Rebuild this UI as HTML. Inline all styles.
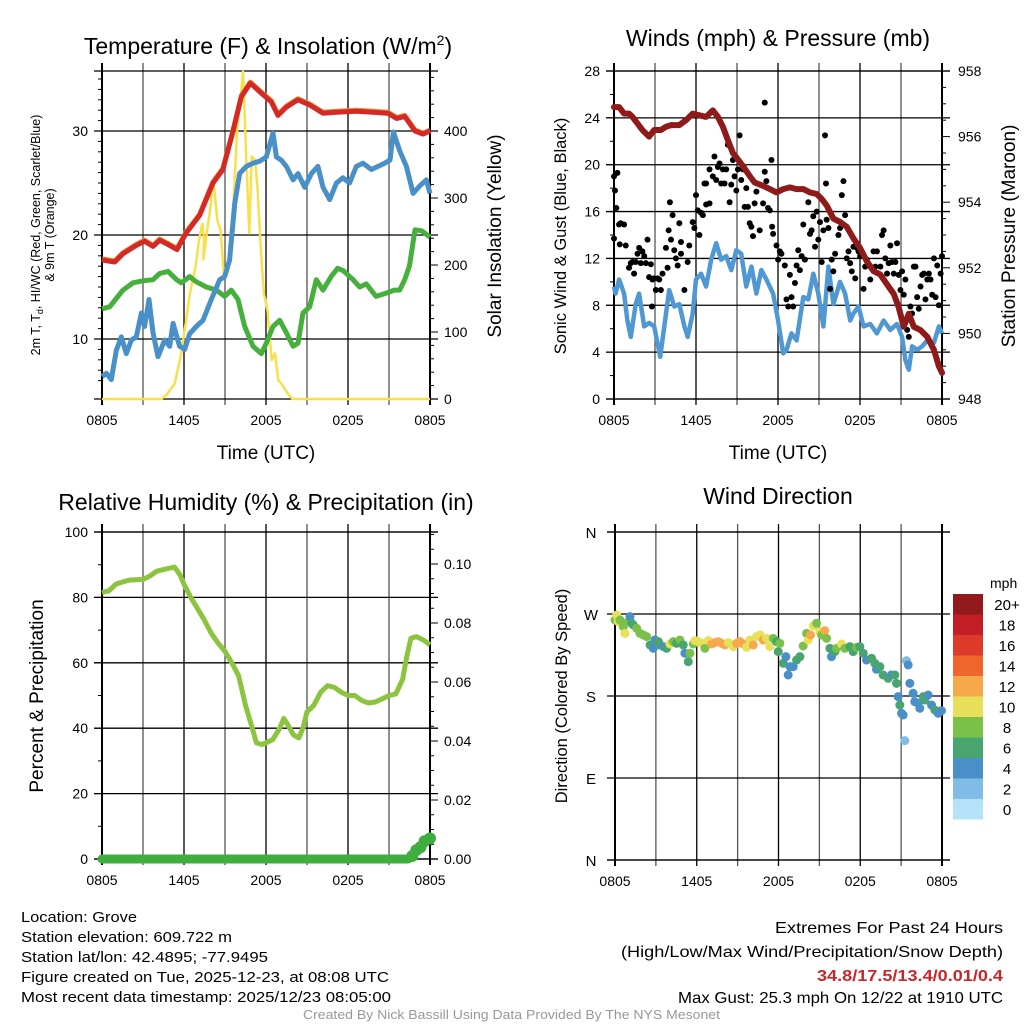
<!DOCTYPE html>
<html><head><meta charset="utf-8"><style>
html,body{margin:0;padding:0;background:#fff;}
svg{display:block;font-family:"Liberation Sans",sans-serif;}
</style></head><body>
<svg id="c" width="1024" height="1024" viewBox="0 0 1024 1024" xmlns="http://www.w3.org/2000/svg"></svg>
<script>
// ---------- Panel 1 data ----------
const tempTimes=[0,0.93,1.54,2.51,3.12,3.73,4.22,4.95,5.49,6.17,7.15,8.12,8.85,9.59,10.2,10.85,11.78,12.39,12.88,13.49,14.34,15.2,16.17,17.15,18.61,19.83,20.93,21.56,22.15,22.9,23.49,24];
const tempValues=[17.6,17.4,18.2,19.0,19.4,18.9,19.5,19.0,18.6,20.2,21.9,25.0,26.3,30.0,33.3,34.6,33.5,32.8,31.5,32.3,33.0,32.5,31.7,31.8,31.9,31.8,31.7,31.2,31.4,30.0,29.7,30.0];
const dewTimes=[0,0.32,0.68,1.05,1.41,1.78,2.15,2.51,2.88,3.12,3.44,3.73,4.1,4.59,4.95,5.2,5.68,6.05,6.41,6.9,7.39,8.0,8.61,8.98,9.34,9.71,10.07,10.56,11.05,11.54,12.02,12.51,12.51,12.76,13.12,13.49,13.98,14.34,14.83,15.32,15.8,16.17,16.66,17.15,17.63,18.12,18.61,19.1,19.71,20.2,20.68,21.07,21.32,21.78,22.27,22.76,23.24,23.73,24];
const dewValues=[6.4,6.7,6.1,8.9,10.2,8.6,9.9,10.2,12.5,11.2,13.8,10.6,8.3,9.9,9.3,11.5,9.3,9.0,10.5,11.2,11.8,13.8,15.7,16.0,17.6,23.0,25.9,26.6,26.9,27.1,27.5,29.8,29.8,27.5,27.2,26.6,25.3,25.9,24.6,25.9,26.6,24.6,23.4,25.0,25.5,25.0,26.6,26.9,26.3,26.6,26.9,27.2,29.9,28.1,26.6,24.0,24.7,25.3,24.0];
const chillTimes=[0,0.56,1.05,1.54,2.27,3.0,3.73,4.22,4.83,5.46,5.8,6.41,6.9,7.63,8.37,8.98,9.46,9.95,10.44,11.05,11.66,12.02,12.51,13.0,13.49,13.98,14.34,14.71,15.2,15.68,16.17,16.76,17.24,17.63,18.37,18.85,19.34,20.05,20.78,21.39,21.78,22.15,22.49,22.9,23.39,24];
const chillValues=[12.9,13.1,13.9,14.7,15.4,15.6,15.7,16.3,16.5,15.7,15.4,16.0,15.5,15.0,14.7,14.1,14.7,13.8,11.2,9.3,8.6,9.6,11.2,11.8,10.6,9.3,9.6,12.5,13.1,15.7,14.7,16.0,16.8,16.6,15.7,15.0,15.3,14.1,14.4,14.7,14.7,15.7,17.0,20.5,20.4,19.8];
const solarTimes=[0,4.34,4.71,5.32,5.8,6.44,6.85,7.1,7.34,7.46,7.41,7.71,7.95,8.07,8.2,8.44,8.68,8.93,9.17,9.41,9.66,9.9,10.12,10.32,10.56,10.78,10.95,11.2,11.37,11.61,11.85,12.1,12.42,12.66,12.9,13.2,13.56,13.93,24];
const solarValues=[0,0,6,23,68,158,198,237,262,240,208,254,287,322,317,267,252,183,188,227,307,406,441,489,357,247,362,357,317,227,158,133,58,68,28,21,9,0,0];
// ---------- Panel 2 data ----------
const presTimes=[0,0.37,0.74,1.1,1.35,1.72,2.08,2.57,2.94,3.43,3.8,4.17,4.78,5.27,5.76,6.25,6.74,7.23,7.6,7.97,8.33,8.7,9.07,9.44,9.93,10.29,10.91,11.4,11.89,12.38,12.87,13.36,13.85,14.34,14.83,15.2,15.56,16.05,16.54,17.03,17.52,18.01,18.5,18.99,19.48,19.97,20.47,20.83,21.2,21.57,21.94,22.43,22.92,23.41,23.77,24];
const presValues=[956.9,956.9,956.7,956.7,956.6,956.4,956.2,956.0,956.2,956.2,956.3,956.35,956.35,956.5,956.7,956.65,956.6,956.8,956.6,956.3,955.9,955.5,955.3,955.1,954.8,954.6,954.5,954.4,954.3,954.4,954.45,954.4,954.4,954.3,954.25,954.1,953.9,953.5,953.4,953.25,952.9,952.6,952.2,951.9,951.8,951.5,951.2,950.8,950.2,950.6,950.2,950.1,949.9,949.5,949.0,948.8];
const windTimes=[0,0.12,0.37,0.74,0.98,1.23,1.59,1.84,2.21,2.57,2.94,3.26,3.38,3.68,4.04,4.41,4.78,5.15,5.39,5.76,6.0,6.37,6.74,7.11,7.48,7.84,8.21,8.58,8.95,9.31,9.68,10.05,10.42,10.78,11.15,11.64,12.01,12.38,12.62,12.99,13.36,13.85,14.22,14.58,14.95,15.32,15.69,16.05,16.54,16.91,17.28,17.52,17.89,18.26,18.75,19.24,19.73,20.22,20.71,21.08,21.32,21.57,21.81,22.18,22.55,22.92,23.41,23.77,24];
const windValues=[9.6,9.0,10.2,9.0,6.7,5.3,8.1,9.0,6.2,6.5,6.2,4.3,3.6,6.2,9.3,7.9,8.1,6.2,5.3,7.3,10.2,10.7,9.6,11.9,13.3,11.9,12.2,11.0,12.7,12.4,9.6,11.3,9.0,11.0,10.2,9.0,6.7,3.9,4.2,5.6,5.0,8.7,8.5,10.7,9.0,6.2,11.3,8.1,10.0,9.0,6.7,7.3,7.9,6.2,6.4,5.6,6.7,5.9,6.4,5.3,3.3,2.5,4.5,4.2,4.5,5.0,4.8,6.2,5.6];
const gustTimes=[0,0,0.25,0.07,0.17,0.37,0.49,0.74,0.42,0.86,1.1,1.23,1.35,1.47,1.59,1.72,1.84,2.08,1.96,2.21,2.33,2.45,2.57,2.7,2.82,2.94,2.77,3.06,3.19,3.43,3.31,3.55,3.8,3.92,4.0,4.09,4.17,4.29,4.41,4.53,4.66,4.78,4.9,4.9,5.15,5.39,5.51,5.76,5.88,6.0,6.13,6.25,6.37,6.5,6.74,6.99,6.62,6.74,6.99,7.23,7.35,7.48,7.6,7.72,7.84,7.97,8.09,8.21,8.33,8.46,8.58,8.7,8.82,8.95,9.07,9.19,9.31,9.44,9.56,9.68,9.8,9.93,10.05,10.17,10.29,10.42,10.66,10.91,11.03,11.15,11.27,11.4,11.52,11.57,11.64,11.03,11.89,12.01,12.13,12.25,12.5,12.62,12.75,12.87,12.99,13.11,13.24,13.36,13.48,13.6,13.73,13.85,13.97,14.22,14.34,14.46,14.58,14.71,14.83,14.95,15.07,15.2,15.32,15.44,15.51,15.56,15.69,15.81,15.93,16.05,16.18,16.42,16.54,16.67,16.79,16.91,17.03,17.16,17.28,17.4,17.52,17.65,17.77,17.89,18.01,18.26,18.38,18.5,18.75,18.99,19.12,19.24,19.49,19.61,19.73,19.85,19.98,20.1,20.22,20.34,20.47,20.59,20.71,20.83,20.96,21.08,21.2,21.32,21.45,21.57,21.69,21.81,21.94,22.06,22.18,22.3,22.43,22.55,22.67,22.79,22.92,23.04,23.16,23.28,23.41,23.53,23.65,23.77,23.9,24.0];
const gustValues=[13.7,19.0,19.3,17.8,16.3,14.9,15.0,14.9,13.2,13.1,11.2,11.6,11.7,10.7,11.7,12.4,12.9,12.6,11.6,12.2,11.6,13.6,10.4,11.5,10.2,10.3,7.9,9.3,10.3,9.3,10.2,10.7,12.9,11.2,14.4,16.8,13.6,15.7,12.7,12.0,11.4,15.0,13.4,12.4,9.3,11.7,13.1,15.1,14.6,17.4,16.1,14.0,15.9,15.7,16.6,16.7,18.4,18.4,19.6,19.0,20.7,18.7,19.8,20.1,18.4,19.6,18.4,19.6,21.7,16.8,18.3,20.4,19.0,17.8,19.6,22.5,18.7,19.6,16.4,18.0,16.4,15.0,14.7,13.9,16.7,17.7,14.4,16.7,19.4,18.6,16.3,16.1,20.4,14.7,14.1,25.3,13.1,11.9,12.6,12.4,11.4,8.5,7.9,10.6,8.7,7.9,9.9,11.4,12.7,11.0,12.2,14.9,11.9,16.8,14.1,14.4,15.6,13.0,16.0,13.6,15.1,11.7,14.4,22.5,18.4,15.3,14.6,9.4,11.9,10.9,12.4,14.0,14.6,17.4,18.6,15.7,12.0,12.6,11.6,10.9,13.0,10.3,12.9,12.6,12.2,9.4,11.3,11.9,10.2,12.6,11.3,12.6,11.3,14.0,14.4,12.0,10.7,11.6,13.1,11.7,10.7,11.7,13.3,10.6,9.3,10.9,8.9,10.2,5.9,5.3,7.9,7.3,11.3,11.3,8.7,7.7,9.6,10.6,10.7,8.5,10.2,10.7,10.2,8.9,12.0,8.7,11.4,8.0,10.7,12.2];
// ---------- Panel 3 data ----------
const rhTimes=[0,0.5,1,1.5,2,3,3.5,4,4.5,5,5.3,5.7,6,6.5,7,7.5,8,8.5,9,9.5,10,10.5,11,11.3,11.7,12,12.5,13,13.3,13.6,14,14.4,14.7,15,15.5,16,16.5,17,17.5,18,18.5,19,19.5,20,20.5,21,21.5,22,22.3,22.6,23,23.5,24];
const rhValues=[81.5,82,84,84.7,85.3,85.5,86.5,88,88.5,89,89.3,87,84,80,76.5,73,69,66,63.5,60,56,47,40,35.5,35,35.5,36.5,40,43,41,38,37,40,45,47,51,53,52.5,51,50,50,48.5,47.7,48,49,50,50.5,55,62,67.5,68,67,65.5];
const precipTimes=[0,22.4,22.7,23.0,23.3,23.6,24];
const precipValues=[0,0,0.001,0.003,0.004,0.006,0.007];
// ---------- Panel 4 data ----------
const dirTimes=[0,0.12,0.24,0.37,0.61,0.73,0.98,1.1,1.22,1.34,1.59,1.83,2.08,2.32,2.57,2.81,2.93,3.18,3.3,3.55,3.79,4.03,4.28,4.52,4.77,5.01,5.13,5.38,5.5,5.75,5.87,6.11,6.36,6.6,6.85,7.09,7.33,7.58,7.82,8.07,8.31,8.68,8.92,9.17,9.41,9.66,9.9,10.15,10.39,10.64,10.88,11.12,11.37,11.61,11.86,11.98,12.1,12.35,12.54,12.71,12.84,13.08,13.33,13.57,13.81,14.06,14.18,14.35,14.55,14.79,15.04,15.16,15.4,15.53,15.77,15.89,16.14,16.26,16.63,16.87,17.24,17.48,17.73,17.97,18.22,18.46,18.83,19.07,19.19,19.44,19.68,20.05,20.29,20.54,20.66,20.78,20.9,21.03,21.15,21.27,21.39,21.52,21.64,21.88,22.0,22.25,22.37,22.62,22.74,22.98,23.23,23.47,23.72,23.96];
const dirValues=[263.4,268.9,261.6,263.4,256.1,248.8,261.6,267.1,259.8,258.0,254.3,248.8,247.0,245.2,236.0,232.3,241.5,239.7,236.0,234.2,232.3,237.1,239.7,237.8,241.5,236.0,226.9,217.7,226.9,237.1,240.8,239.7,237.8,232.3,240.8,237.1,238.6,239.7,237.8,236.0,238.6,234.2,237.8,239.7,237.1,233.4,241.5,236.0,245.2,247.0,241.5,243.3,234.2,243.3,239.7,228.7,237.8,215.9,223.2,203.1,212.2,212.2,219.5,223.2,234.9,248.8,241.5,247.0,256.9,259.8,250.6,247.0,251.7,243.3,232.3,223.2,228.7,232.3,237.1,232.3,234.2,228.7,233.4,234.2,226.9,219.5,221.4,215.9,209.3,212.2,203.1,199.4,203.1,203.1,193.9,179.3,170.1,161.0,159.2,131.0,218.8,214.1,193.9,183.0,173.8,172.0,166.5,179.3,175.6,181.1,170.1,164.7,161.0,163.9];
const dirSpeeds=[8,10,10,8,8,10,8,4,6,6,8,8,8,8,6,4,4,6,6,4,6,10,8,6,8,6,4,6,8,8,10,10,10,8,10,12,12,12,12,12,10,10,12,12,12,10,10,12,10,10,12,10,10,8,6,6,8,6,4,4,4,4,6,6,8,8,10,12,10,8,10,8,12,8,6,4,6,8,10,8,6,6,8,6,6,4,6,6,4,6,6,6,4,6,6,4,6,4,4,2,2,4,4,4,4,4,4,6,6,4,4,6,4,4];
const legendLabels=["20+","18","16","14","12","10","8","6","4","2","0"];
const legendColors=["#921a1c","#c11f26","#dd3a2c","#f0652c","#f7a84a","#e8e05a","#7ac14a","#48a56f","#4a8fc7","#80bce6","#b5e2f7"];
const timeTicks=[0,6,12,18,24];
const timeTickLabels=["0805","1405","2005","0205","0805"];

const NS="http://www.w3.org/2000/svg";
const svg=document.getElementById('c');
function el(tag,attrs,parent){const e=document.createElementNS(NS,tag);for(const k in attrs)e.setAttribute(k,attrs[k]);(parent||svg).appendChild(e);return e;}
function txt(s,x,y,size,anchor,parent,extra){const t=el('text',Object.assign({x:x,y:y,'font-size':size,'text-anchor':anchor||'middle',fill:'#000'},extra||{}),parent);t.textContent=s;return t;}
function lin(d0,d1,p0,p1){return v=>p0+(v-d0)/(d1-d0)*(p1-p0);}
function path(xs,ys,fx,fy){let d='';for(let i=0;i<xs.length;i++){d+=(i?'L':'M')+fx(xs[i]).toFixed(1)+' '+fy(ys[i]).toFixed(1);}return d;}

function frame(g,x0,x1,y0,y1,hLines,fy){
  for(let h=0;h<=24;h+=3){const x=lin(0,24,x0,x1)(h);
    const l=el('line',{x1:x,y1:y0-8,x2:x,y2:y1+6,stroke:(h%6==0)?'#000':'#555','stroke-width':1.3},g);
    
    }
  hLines.forEach(v=>{const y=fy(v);
    const l=el('line',{x1:x0-8,y1:y,x2:x1+8,y2:y,stroke:'#000','stroke-width':1.3},g);
    
    });
  el('line',{x1:x0,y1:y0-8,x2:x0,y2:y1+6,stroke:'#000','stroke-width':2},g);
  el('line',{x1:x1,y1:y0-8,x2:x1,y2:y1+6,stroke:'#000','stroke-width':2},g);
  el('line',{x1:x0-8,y1:y1,x2:x1+8,y2:y1,stroke:'#000','stroke-width':1.3},g);
  el('line',{x1:x0-8,y1:y0,x2:x1+8,y2:y0,stroke:'#000','stroke-width':1.3},g);
  const fx=lin(0,24,x0,x1);
  timeTicks.forEach((t,i)=>{const tt=txt(timeTickLabels[i],fx(t),y1+26,14,'middle',g);
    
    });
}

// ===== Panel 1 =====
(function(){
  const g=el('g',{});
  
  
  const x0=102,x1=430,y0=71,y1=399;
  const fx=lin(0,24,x0,x1), fy=lin(10,30,339,131), fs=lin(0,400,399,131);
  frame(g,x0,x1,y0,y1,[10,20,30],fy);
  [10,20,30].forEach(v=>{const t=txt(String(v),x0-14,fy(v)+5,14,'end',g);});
  [0,100,200,300,400].forEach(v=>{const t=txt(String(v),x1+14,fs(v)+5,14,'start',g);});
  for(let v=0;v<=480;v+=20){el('line',{x1:x1,y1:fs(v),x2:x1+(v%100==0?8:4),y2:fs(v),stroke:'#000','stroke-width':1},g);}
  for(let v=6;v<=35;v++){el('line',{x1:x0-(v%10==0?8:4),y1:fy(v),x2:x0,y2:fy(v),stroke:'#000','stroke-width':1},g);}
  const sp=el('path',{d:path(solarTimes,solarValues,fx,fs),fill:'none',stroke:'#f9e04b','stroke-width':2.5,'stroke-linejoin':'round'},g);
  
  const ch=el('path',{d:path(chillTimes,chillValues,fx,fy),fill:'none',stroke:'#46b03c','stroke-width':5,'stroke-linejoin':'round'},g);
  
  const dw=el('path',{d:path(dewTimes,dewValues,fx,fy),fill:'none',stroke:'#4a90c8','stroke-width':5,'stroke-linejoin':'round'},g);
  
  const or=el('path',{d:path(tempTimes,tempValues.map(v=>v+0.1),fx,fy),fill:'none',stroke:'#f08a30','stroke-width':5,'stroke-linejoin':'round'},g);
  
  const tp=el('path',{d:path(tempTimes,tempValues,fx,fy),fill:'none',stroke:'#d42a27','stroke-width':5,'stroke-linejoin':'round'},g);
  
  const ti=el('text',{x:268,y:54,'font-size':23,'text-anchor':'middle'},g);
  ti.innerHTML='Temperature (F) &amp; Insolation (W/m<tspan dy="-9" font-size="14">2</tspan><tspan dy="9">)</tspan>';
  
  const xl=txt('Time (UTC)',266,459,19,'middle',g);
  const yl=el('text',{transform:'translate(40,235) rotate(-90)','font-size':12.5,'text-anchor':'middle'},g);
  yl.innerHTML='2m T, T<tspan dy="3" font-size="9">d</tspan><tspan dy="-3">, HI/WC (Red, Green, Scarlet/Blue)</tspan>';
  
  const yl2=el('text',{transform:'translate(54,235) rotate(-90)','font-size':12.5,'text-anchor':'middle'},g);yl2.textContent='& 9m T (Orange)';
  
  const yr=el('text',{transform:'translate(501,236) rotate(-90)','font-size':19,'text-anchor':'middle'},g);yr.textContent='Solar Insolation (Yellow)';
  
})();

// ===== Panel 2 =====
(function(){
  const g=el('g',{});
  
  const x0=614,x1=942,y0=71,y1=399;
  const fx=lin(0,24,x0,x1), fy=lin(0,28,399,71), fp=lin(948,958,399,71);
  const hl=[];for(let v=0;v<=28;v+=4)hl.push(v);
  frame(g,x0,x1,y0,y1,hl,fy);
  hl.forEach(v=>{const t=txt(String(v),x0-14,fy(v)+5,14,'end',g);});
  for(let v=948;v<=958;v+=2){const t=txt(String(v),x1+16,fp(v)+5,14,'start',g);}
  for(let v=948;v<=958;v+=0.5){el('line',{x1:x1,y1:fp(v),x2:x1+(v%2==0?8:4),y2:fp(v),stroke:'#000','stroke-width':1},g);}
  for(let v=0;v<=28;v+=2){el('line',{x1:x0-(v%4==0?8:4),y1:fy(v),x2:x0,y2:fy(v),stroke:'#000','stroke-width':1},g);}
  const wl=el('path',{d:path(windTimes,windValues,fx,fy),fill:'none',stroke:'#4f98d3','stroke-width':4.5,'stroke-linejoin':'round'},g);
  
  gustTimes.forEach((t,i)=>{const c=el('circle',{cx:fx(t),cy:fy(gustValues[i]),r:3,fill:'#000'},g);
    
    });
  const pl=el('path',{d:path(presTimes,presValues,fx,fp),fill:'none',stroke:'#8e1a1a','stroke-width':6,'stroke-linejoin':'round','stroke-linecap':'round'},g);
  
  const ti=txt('Winds (mph) & Pressure (mb)',778,46,23,'middle',g);
  const xl=txt('Time (UTC)',778,459,19,'middle',g);
  const yl=el('text',{transform:'translate(566,236) rotate(-90)','font-size':16.5,'text-anchor':'middle'},g);yl.textContent='Sonic Wind & Gust (Blue, Black)';
  
  const yr=el('text',{transform:'translate(1015,236) rotate(-90)','font-size':19,'text-anchor':'middle'},g);yr.textContent='Station Pressure (Maroon)';
  
})();

// ===== Panel 3 =====
(function(){
  const g=el('g',{});
  
  const x0=102,x1=430,y0=532,y1=859;
  const fx=lin(0,24,x0,x1), fy=lin(0,100,859,532), fq=lin(0,0.1,859,564);
  const hl=[0,20,40,60,80,100];
  frame(g,x0,x1,y0,y1,hl,fy);
  hl.forEach(v=>{const t=txt(String(v),x0-14,fy(v)+5,14,'end',g);});
  ['0.00','0.02','0.04','0.06','0.08','0.10'].forEach((s,i)=>{const t=txt(s,x1+14,fq(i*0.02)+5,14,'start',g);});
  for(let i=0;i<=22;i++){const v=i*0.005;el('line',{x1:x1,y1:fq(v),x2:x1+(i%4==0?8:4),y2:fq(v),stroke:'#000','stroke-width':1},g);}
  for(let v=0;v<=100;v+=10){el('line',{x1:x0-(v%20==0?8:4),y1:fy(v),x2:x0,y2:fy(v),stroke:'#000','stroke-width':1},g);}
  const rl=el('path',{d:path(rhTimes,rhValues,fx,fy),fill:'none',stroke:'#8cc43f','stroke-width':5,'stroke-linejoin':'round'},g);
  
  const pr=el('path',{d:path(precipTimes,precipValues,fx,fq),fill:'none',stroke:'#3fae3f','stroke-width':9,'stroke-linecap':'round','stroke-linejoin':'round'},g);
  
  precipTimes.forEach((t,i)=>{if(i>=2){const c=el('circle',{cx:fx(t),cy:fq(precipValues[i]),r:6,fill:'#3fae3f'},g);
    
    }});
  const ti=txt('Relative Humidity (%) & Precipitation (in)',266,510,23,'middle',g);
  const yl=el('text',{transform:'translate(43,696) rotate(-90)','font-size':19,'text-anchor':'middle'},g);yl.textContent='Percent & Precipitation';
  
})();

// ===== Panel 4 =====
(function(){
  const g=el('g',{});
  
  const x0=615,x1=942,y0=532,y1=860;
  const fx=lin(0,24,x0,x1), fy=lin(0,360,860,532);
  frame(g,x0,x1,y0,y1,[0,90,180,270,360],fy);
  [['N',0],['E',90],['S',180],['W',270],['N',360]].forEach(a=>{const t=txt(a[0],x0-24,fy(a[1])+6,15,'middle',g);});
  dirTimes.forEach((t,i)=>{const idx=Math.max(0,Math.min(10,10-Math.floor(dirSpeeds[i]/2)));
    const c=el('circle',{cx:fx(t),cy:fy(dirValues[i]),r:4.5,fill:legendColors[idx]},g);
    
    });
  const ti=txt('Wind Direction',778,504,23,'middle',g);
  const yl=el('text',{transform:'translate(567,696) rotate(-90)','font-size':16.5,'text-anchor':'middle'},g);yl.textContent='Direction (Colored By Speed)';
  
  const lg=el('g',{},g);
  
  const mt=txt('mph',990,588,14,'start',lg);
  legendLabels.forEach((s,i)=>{const y=594+i*20.5;
    const r=el('rect',{x:953,y:y,width:30,height:20.5,fill:legendColors[i]},lg);
    
    
    const t=txt(s,1007,y+16,15,'middle',lg);
    
    });
})();

// ===== Footer =====
(function(){
  const g=el('g',{});
  
  const L=[['Location: Grove',116],['Station elevation: 609.722 m',211],['Station lat/lon: 42.4895; -77.9495',247],['Figure created on Tue, 2025-12-23, at 08:08 UTC',368],['Most recent data timestamp: 2025/12/23 08:05:00',370]];
  L.forEach((a,i)=>{const t=txt(a[0],21,922+i*20,15,'start',g,{textLength:a[1],lengthAdjust:'spacingAndGlyphs'});});
  const R=[['Extremes For Past 24 Hours',775,933,'#000','normal'],['(High/Low/Max Wind/Precipitation/Snow Depth)',621,957,'#000','normal'],['34.8/17.5/13.4/0.01/0.4',817,981,'#c9262a','bold'],['Max Gust: 25.3 mph On 12/22 at 1910 UTC',678,1003,'#000','normal']];
  R.forEach(a=>{const t=txt(a[0],a[1],a[2],16,'start',g,{textLength:1003-a[1],lengthAdjust:'spacingAndGlyphs',fill:a[3],'font-weight':a[4]});});
  const c=txt('Created By Nick Bassill Using Data Provided By The NYS Mesonet',303,1019,12.5,'start',g,{textLength:417,lengthAdjust:'spacingAndGlyphs',fill:'#999'});
  
})();
</script>
</body></html>
